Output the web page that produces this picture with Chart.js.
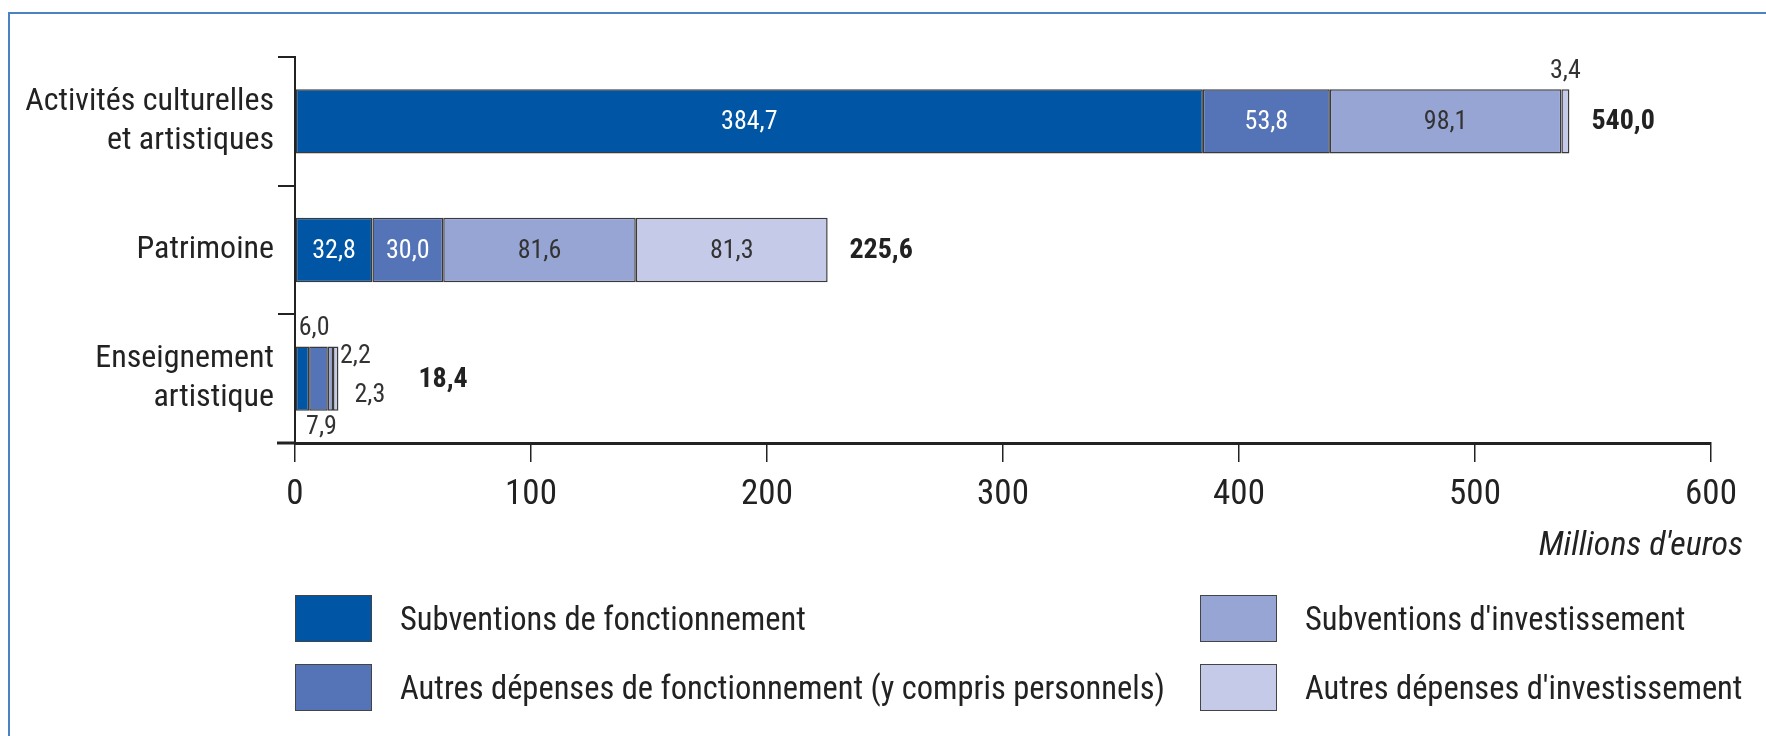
<!DOCTYPE html>
<html lang="fr">
<head>
<meta charset="utf-8">
<script src="https://cdn.jsdelivr.net/npm/chart.js@4.4.1/dist/chart.umd.min.js"></script>
<style>
  html, body { margin: 0; padding: 0; background: #fff; }
  body { width: 1766px; height: 736px; position: relative; overflow: hidden;
         font-family: 'Liberation Sans Narrow', 'Roboto Condensed', Roboto, sans-serif; color: #222; }
  #cadre { position: absolute; left: 8px; top: 12px; right: -4px; bottom: -4px;
           border-left: 2px solid #4a82c4; border-top: 2px solid #4a82c4; }
  #graph { position: absolute; left: 0; top: 0; }
  .unite { position: absolute; right: 23px; top: 523px; font-size: 34px; font-style: italic; }
  .leg { position: absolute; display: flex; align-items: center; font-size: 32.5px; white-space: nowrap; }
  .leg span.box { display: inline-block; width: 75px; height: 45px; border: 1.5px solid #444; margin-right: 28px; }
</style>
</head>
<body>
<div id="cadre"></div>
<canvas id="graph" width="1766" height="736"></canvas>
<div class="unite">Millions d'euros</div>
<div id="legende"></div>

<script>
// Données (millions d'euros)
const categories = [["Activités culturelles", "et artistiques"], "Patrimoine", ["Enseignement", "artistique"]];
const seriesNoms = [
    "Subventions de fonctionnement",
    "Autres dépenses de fonctionnement (y compris personnels)",
    "Subventions d'investissement",
    "Autres dépenses d'investissement"
];
const subvFonct = [384.7, 32.8, 6.0];
const autresFonct = [53.8, 30.0, 7.9];
const subvInvest = [98.1, 81.6, 2.2];
const autresInvest = [3.4, 81.3, 2.3];
const totaux = [540.0, 225.6, 18.4];
const xTicks = [0, 100, 200, 300, 400, 500, 600];

const couleurs = ["#0055a5", "#5574b8", "#97a5d5", "#c5cae8"];
const couleursTexte = ["#fff", "#fff", "#333", "#333"];

// placement des petites étiquettes (dataset-index)
const placements = {
    "3-0": { mode: "dessus", dx: 0, dy: -18, align: "center" },
    "0-2": { mode: "dessusGauche", dx: 3, dy: -18, align: "left" },
    "1-2": { mode: "dessous", dx: 3, dy: 17, align: "center" },
    "2-2": { mode: "droite", dx: 7, dy: -22, align: "left" },
    "3-2": { mode: "droite", dx: 16, dy: 17, align: "left" }
};
const decalTotaux = [22, 22, 80];

const FONT = "'Liberation Sans Narrow', 'Roboto Condensed', Roboto, sans-serif";

function fmt(v) {
    return v.toFixed(1).replace('.', ',');
}

// plugin étiquettes
const etiquettes = {
    id: 'etiquettes',
    afterDatasetsDraw(chart) {
        const ctx = chart.ctx;
        ctx.save();
        ctx.textBaseline = 'middle';
        chart.data.datasets.forEach((ds, di) => {
            const meta = chart.getDatasetMeta(di);
            meta.data.forEach((el, i) => {
                const v = ds.data[i];
                const p = placements[di + "-" + i];
                const h = el.height;
                ctx.font = "26px " + FONT;
                if (!p) {
                    ctx.fillStyle = couleursTexte[di];
                    ctx.textAlign = 'center';
                    ctx.fillText(fmt(v), (el.x + el.base) / 2, el.y + 1);
                    return;
                }
                ctx.fillStyle = '#333';
                ctx.textAlign = p.align;
                let x, y;
                if (p.mode === "dessus") { x = (el.x + el.base) / 2 + p.dx; y = el.y - h / 2 + p.dy; }
                else if (p.mode === "dessusGauche") { x = el.base + p.dx; y = el.y - h / 2 + p.dy; }
                else if (p.mode === "dessous") { x = (el.x + el.base) / 2 + p.dx; y = el.y + h / 2 + p.dy; }
                else { x = el.x + p.dx; y = el.y + p.dy; }
                ctx.fillText(fmt(v), x, y);
            });
        });
        // totaux
        const xs = chart.scales.x, ys = chart.scales.y;
        ctx.font = "bold 28px " + FONT;
        ctx.fillStyle = '#222';
        ctx.textAlign = 'left';
        totaux.forEach((t, i) => {
            ctx.fillText(fmt(t), xs.getPixelForValue(t) + decalTotaux[i], ys.getPixelForValue(i) + 1);
        });
        // prolongement de l'axe x vers la gauche
        ctx.strokeStyle = '#222';
        ctx.lineWidth = 3;
        ctx.beginPath();
        ctx.moveTo(chart.chartArea.left - 18, chart.chartArea.bottom);
        ctx.lineTo(chart.chartArea.left, chart.chartArea.bottom);
        ctx.stroke();
        ctx.restore();
    }
};

const jeux = [subvFonct, autresFonct, subvInvest, autresInvest].map((d, k) => ({
    label: seriesNoms[k],
    data: d,
    backgroundColor: couleurs[k],
    borderColor: '#3a3a3a',
    borderWidth: 1.5,
    borderSkipped: false,
    categoryPercentage: 1,
    barPercentage: 0.5
}));

new Chart(document.getElementById('graph'), {
    type: 'bar',
    data: { labels: categories, datasets: jeux },
    options: {
        indexAxis: 'y',
        responsive: false,
        animation: false,
        events: [],
        layout: { padding: { top: 57, right: 55, bottom: 174, left: 0 } },
        plugins: { legend: { display: false }, tooltip: { enabled: false } },
        scales: {
            x: {
                stacked: true,
                min: 0,
                max: 600,
                afterBuildTicks: (s) => { s.ticks = xTicks.map(v => ({ value: v })); },
                afterFit: (s) => { s.height = 119; },
                grid: { drawOnChartArea: false, drawTicks: true, tickLength: 19, color: '#222', lineWidth: 1.5 },
                border: { display: true, color: '#222', width: 3 },
                ticks: { color: '#222', padding: 12, font: { size: 35, family: FONT } }
            },
            y: {
                stacked: true,
                afterFit: (s) => { s.width = 295; },
                grid: { offset: true, drawOnChartArea: false, drawTicks: true, tickLength: 17, color: '#222', lineWidth: 2 },
                border: { display: true, color: '#222', width: 2 },
                ticks: { color: '#222', padding: 4, font: { size: 32, family: FONT, lineHeight: 1.2 } }
            }
        }
    },
    plugins: [etiquettes]
});

// légende en deux colonnes
const posLegende = [
    { left: 295, top: 595 }, { left: 295, top: 664 },
    { left: 1200, top: 595 }, { left: 1200, top: 664 }
];
const legende = document.getElementById('legende');
seriesNoms.forEach((nom, k) => {
    const d = document.createElement('div');
    d.className = 'leg';
    d.style.left = posLegende[k].left + 'px';
    d.style.top = posLegende[k].top + 'px';
    d.innerHTML = '<span class="box" style="background:' + couleurs[k] + '"></span><span>' + nom + '</span>';
    legende.appendChild(d);
});
</script>
</body>
</html>
